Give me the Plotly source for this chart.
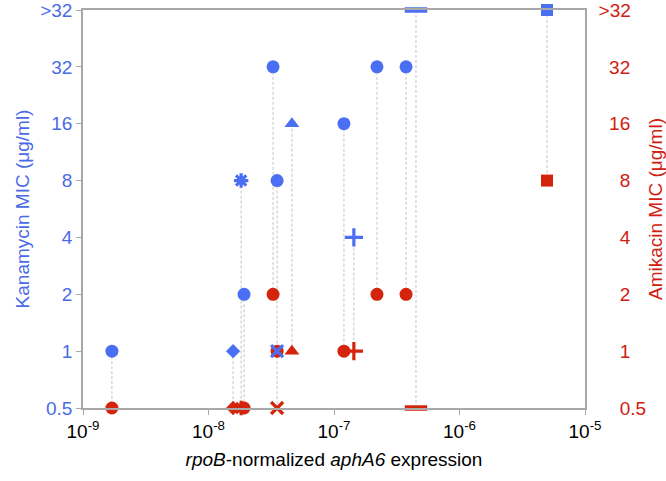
import plotly.graph_objects as go

# ---- data ----
mic_levels = ["0.5", "1", "2", "4", "8", "16", "32", ">32"]
expression = [1.70e-9, 1.57e-8, 1.82e-8, 1.92e-8, 3.27e-8, 3.52e-8, 3.52e-8,
              4.62e-8, 1.20e-7, 1.44e-7, 2.20e-7, 3.75e-7, 4.50e-7, 4.98e-6]
kanamycin_mic = ["1", "1", "8", "2", "32", "8", "1", "16", "16", "4", "32", "32", ">32", ">32"]
amikacin_mic = ["0.5", "0.5", "0.5", "0.5", "2", "1", "0.5", "1", "1", "1", "2", "2", "0.5", "8"]
x_tick_vals = [1e-9, 1e-8, 1e-7, 1e-6, 1e-5]
x_tick_text = ["10<sup>-9</sup>", "10<sup>-8</sup>", "10<sup>-7</sup>", "10<sup>-6</sup>", "10<sup>-5</sup>"]

# ---- styles ----
marker_shapes = ["circle", "diamond", "asterisk-open", "circle", "circle", "circle",
                 "x-thin-open", "triangle-up", "circle", "cross-thin-open", "circle",
                 "circle", "line-ew-open", "square"]
size_map = {"circle": 13, "diamond": 11, "asterisk-open": 12, "x-thin-open": 12,
            "triangle-up": 13, "cross-thin-open": 13, "line-ew-open": 16, "square": 12}
width_map = {"asterisk-open": 3.2, "x-thin-open": 3.2, "cross-thin-open": 3.2, "line-ew-open": 5.5}
sizes = [size_map[s] for s in marker_shapes]
lwidths = [width_map.get(s, 0) for s in marker_shapes]

BLUE = "#4a6ff2"
BLUE_TXT = "#4a6be6"
RED = "#d5240c"
RED_TXT = "#d0200f"
GRAY = "#a8a8a8"
FONT = "Liberation Sans, Arial, sans-serif"

fig = go.Figure()

# dashed connectors
lx, ly = [], []
for x, k, a in zip(expression, kanamycin_mic, amikacin_mic):
    lx += [x, x, None]
    ly += [k, a, None]
fig.add_trace(go.Scatter(x=lx, y=ly, mode="lines", yaxis="y",
                         line=dict(color="#c4c4c4", width=1, dash="3px,2px"),
                         hoverinfo="skip", showlegend=False, cliponaxis=False))

# amikacin (red)
fig.add_trace(go.Scatter(x=expression, y=amikacin_mic, mode="markers", yaxis="y2",
                         marker=dict(symbol=marker_shapes, size=sizes, color=RED, opacity=1,
                                     line=dict(color=RED, width=lwidths)),
                         showlegend=False, cliponaxis=False, name="Amikacin"))
# kanamycin (blue)
fig.add_trace(go.Scatter(x=expression, y=kanamycin_mic, mode="markers", yaxis="y2",
                         marker=dict(symbol=marker_shapes, size=sizes, color=BLUE, opacity=1,
                                     line=dict(color=BLUE, width=lwidths)),
                         showlegend=False, cliponaxis=False, name="Kanamycin"))

# right-axis labels padded so they sit like the reference
nb = "\u00a0"
pad = {">32": "", "32": nb * 2, "16": nb * 2, "8": nb * 4,
       "4": nb * 4, "2": nb * 4, "1": nb * 4, "0.5": nb * 4}
right_text = [pad[m] + m for m in mic_levels]

fig.update_layout(
    width=666, height=481,
    margin=dict(l=83, r=81, t=10, b=73, autoexpand=False),
    paper_bgcolor="white", plot_bgcolor="white",
    font=dict(family=FONT, size=19),
    xaxis=dict(type="log", range=[-9, -5], tickmode="array",
               tickvals=x_tick_vals, ticktext=x_tick_text, automargin=False,
               showline=True, linecolor=GRAY, linewidth=1.5, mirror=True,
               ticks="outside", ticklen=5, tickcolor=GRAY, showgrid=False, zeroline=False,
               tickfont=dict(color="black", size=19),
               title=dict(text="<i>rpoB</i>-normalized <i>aphA6</i> expression",
                          font=dict(color="black", size=19), standoff=12)),
    yaxis=dict(type="category", categoryorder="array", categoryarray=mic_levels,
               range=[0, 7], autorange=False, tickmode="array", tickvals=mic_levels,
               ticktext=mic_levels, automargin=False,
               showline=True, linecolor=GRAY, linewidth=1.5,
               ticks="outside", ticklen=5, tickcolor=GRAY, showgrid=False, zeroline=False,
               tickfont=dict(color=BLUE_TXT, size=19),
               title=dict(text="Kanamycin MIC (μg/ml)", font=dict(color=BLUE_TXT, size=19),
                          standoff=6)),
    yaxis2=dict(type="category", categoryorder="array", categoryarray=mic_levels,
                range=[0, 7], autorange=False, overlaying="y", side="right",
                tickmode="array", tickvals=mic_levels, ticktext=right_text, automargin=False,
                showline=True, linecolor=GRAY, linewidth=1.5,
                ticks="", showgrid=False, zeroline=False, ticklabelstandoff=8,
                tickfont=dict(color=RED_TXT, size=19),
                title=dict(text="Amikacin MIC (μg/ml)", font=dict(color=RED_TXT, size=19),
                           standoff=5)),
)

fig.write_html("out.html", config={"displayModeBar": False},
               post_script="document.body.style.margin='0px';document.body.style.padding='0px';")
